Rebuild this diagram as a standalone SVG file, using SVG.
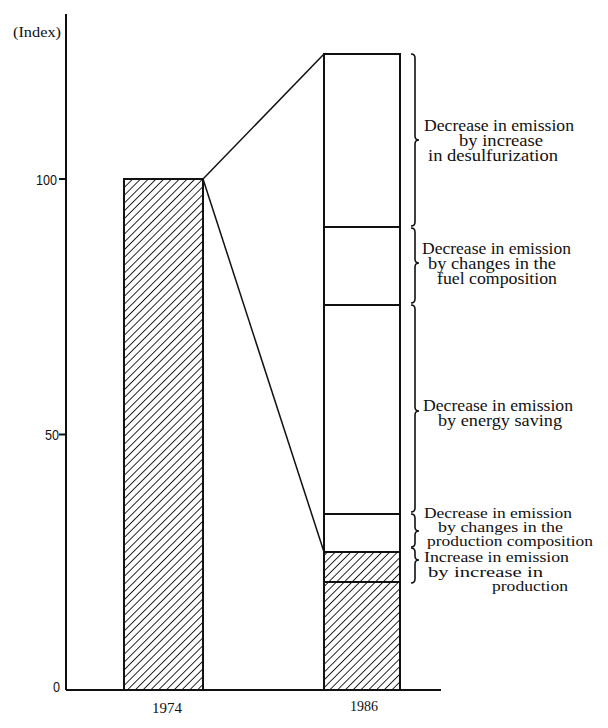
<svg xmlns="http://www.w3.org/2000/svg" width="608" height="728" viewBox="0 0 608 728">
  <defs>
    <pattern id="hatch" patternUnits="userSpaceOnUse" width="5.5" height="5.5" patternTransform="rotate(45)">
      <rect width="5.5" height="5.5" fill="#fff"/>
      <line x1="0" y1="0" x2="0" y2="5.5" stroke="#111" stroke-width="1.8"/>
    </pattern>
  </defs>
  <style>
    .ax { stroke: #111; stroke-width: 2; fill: none; }
    .bar { stroke: #111; stroke-width: 2; }
    .seg { stroke: #111; stroke-width: 2; fill: none; }
    .conn { stroke: #111; stroke-width: 1.5; fill: none; }
    .brace { stroke: #111; stroke-width: 1.6; fill: none; }
    .lbl { font-family: "Liberation Serif", "Times New Roman", serif; font-size: 16px; fill: #111; }
    .lbs { font-family: "Liberation Serif", "Times New Roman", serif; font-size: 15px; fill: #111; }
    .num { font-family: "Liberation Sans", Arial, sans-serif; font-size: 15px; fill: #111; }
    .yr { font-family: "Liberation Serif", "Times New Roman", serif; font-size: 15.5px; fill: #111; }
  </style>
  <rect width="608" height="728" fill="#fff"/>

  <g id="axis">
    <line class="ax" x1="66" y1="14" x2="66" y2="690"/>
    <line class="ax" x1="66" y1="690" x2="441" y2="690"/>
    <line class="ax" x1="59" y1="179" x2="66" y2="179"/>
    <line class="ax" x1="59" y1="434.5" x2="66" y2="434.5"/>
    <text class="yr" x="13" y="37" textLength="48" lengthAdjust="spacingAndGlyphs">(Index)</text>
    <text class="num" x="36" y="184.5" textLength="21" lengthAdjust="spacingAndGlyphs">100</text>
    <text class="num" x="45" y="439.5" textLength="14" lengthAdjust="spacingAndGlyphs">50</text>
    <text class="num" x="53" y="692" textLength="7" lengthAdjust="spacingAndGlyphs">0</text>
  </g>

  <g id="bar-1974">
    <rect class="bar" x="124" y="179" width="79" height="511" fill="url(#hatch)"/>
    <text class="yr" x="152" y="713" textLength="30" lengthAdjust="spacingAndGlyphs">1974</text>
  </g>

  <g id="bar-1986">
    <rect class="bar" x="324" y="54" width="76" height="636" fill="#fff"/>
    <rect class="bar" x="324" y="552" width="76" height="138" fill="url(#hatch)"/>
    <line class="seg" x1="324" y1="227" x2="400" y2="227"/>
    <line class="seg" x1="324" y1="305" x2="400" y2="305"/>
    <line class="seg" x1="324" y1="514" x2="400" y2="514"/>
    <line class="seg" x1="324" y1="582" x2="400" y2="582"/>
    <text class="yr" x="350" y="711" textLength="28" lengthAdjust="spacingAndGlyphs">1986</text>
  </g>

  <g id="connectors">
    <line class="conn" x1="203" y1="179" x2="324" y2="54"/>
    <line class="conn" x1="203" y1="179" x2="324" y2="552"/>
  </g>

  <g id="braces">
    <path class="brace" d="M411 54 Q415 54 415 58 L415 136 Q415 140 419 140 Q415 140 415 144 L415 222 Q415 226 411 226"/>
    <path class="brace" d="M411 228 Q415 228 415 232 L415 259 Q415 263 419 263 Q415 263 415 267 L415 299 Q415 303 411 303"/>
    <path class="brace" d="M411 305 Q415 305 415 309 L415 407 Q415 411 419 411 Q415 411 415 415 L415 508 Q415 512 411 512"/>
    <path class="brace" d="M411 514 Q415 514 415 518 L415 527 Q415 531 419 531 Q415 531 415 535 L415 543 Q415 547 411 547"/>
    <path class="brace" d="M411 548 Q415 548 415 552 L415 556 Q415 560 419 560 Q415 560 415 564 L415 579 Q415 583 411 583"/>
  </g>

  <g id="label-desulfurization">
    <text class="lbl" x="424" y="131" textLength="150" lengthAdjust="spacingAndGlyphs">Decrease in emission</text>
    <text class="lbl" x="459" y="146" textLength="84" lengthAdjust="spacingAndGlyphs">by increase</text>
    <text class="lbl" x="428" y="161" textLength="130" lengthAdjust="spacingAndGlyphs">in desulfurization</text>
  </g>

  <g id="label-fuel">
    <text class="lbl" x="422" y="254" textLength="149" lengthAdjust="spacingAndGlyphs">Decrease in emission</text>
    <text class="lbl" x="428" y="269" textLength="128" lengthAdjust="spacingAndGlyphs">by changes in the</text>
    <text class="lbl" x="437" y="284" textLength="120" lengthAdjust="spacingAndGlyphs">fuel composition</text>
  </g>

  <g id="label-energy">
    <text class="lbl" x="423" y="411" textLength="150" lengthAdjust="spacingAndGlyphs">Decrease in emission</text>
    <text class="lbl" x="438" y="426" textLength="124" lengthAdjust="spacingAndGlyphs">by energy saving</text>
  </g>

  <g id="label-production-composition">
    <text class="lbs" x="424" y="518" textLength="148" lengthAdjust="spacingAndGlyphs">Decrease in emission</text>
    <text class="lbs" x="438" y="532" textLength="125" lengthAdjust="spacingAndGlyphs">by changes in the</text>
    <text class="lbs" x="427" y="546" textLength="166" lengthAdjust="spacingAndGlyphs">production composition</text>
  </g>

  <g id="label-production">
    <text class="lbs" x="424" y="562" textLength="145" lengthAdjust="spacingAndGlyphs">Increase in emission</text>
    <text class="lbs" x="428" y="577" textLength="115" lengthAdjust="spacingAndGlyphs">by increase in</text>
    <text class="lbs" x="492" y="591" textLength="76" lengthAdjust="spacingAndGlyphs">production</text>
  </g>
</svg>
